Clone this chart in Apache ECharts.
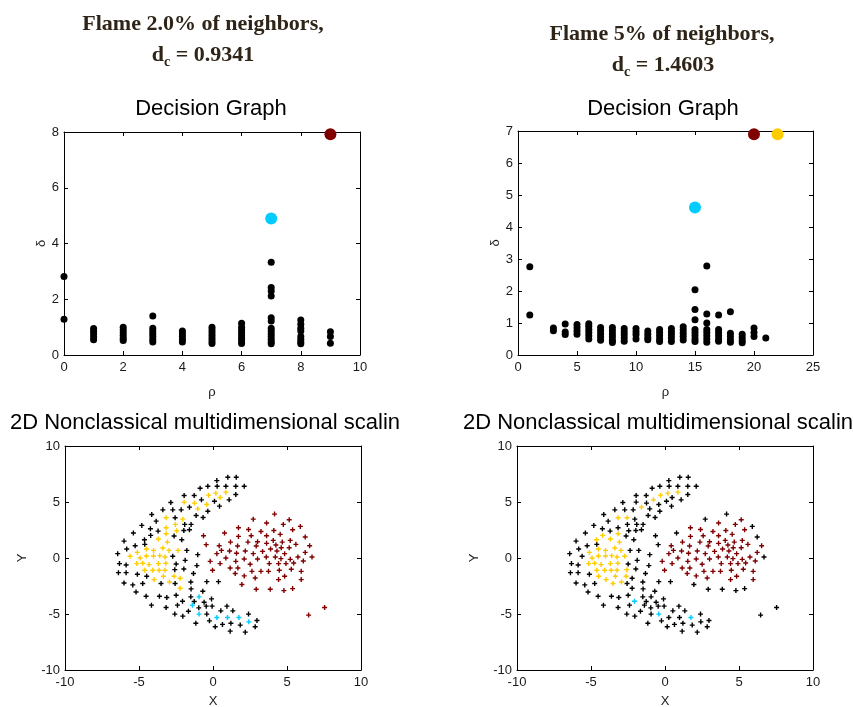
<!DOCTYPE html>
<html>
<head>
<meta charset="utf-8">
<script src="https://cdn.jsdelivr.net/npm/echarts@6/dist/echarts.min.js"></script>
<style>
html, body { margin: 0; padding: 0; background: #fff; }
#main { width: 853px; height: 707px; }
</style>
</head>
<body>
<div id="main"></div>
<script>
// decision graph, 2.0% of neighbours (rho, delta of the plain points)
const rhoA = [0,0, 1,1,1,1,1, 2,2,2,2,2,2, 3,3,3,3,3,3,3, 4,4,4,4,4, 5,5,5,5,5,5,5,
    6,6,6,6,6,6,6,6, 7,7,7,7,7,7,7,7,7,7,7,7,7, 8,8,8,8,8,8,8,8, 9,9,9];
const deltaA = [2.82,1.28, 0.95,0.85,0.75,0.65,0.55, 1.0,0.9,0.8,0.7,0.6,0.52,
    1.4,0.96,0.86,0.76,0.66,0.56,0.47, 0.86,0.76,0.66,0.56,0.47, 1.0,0.9,0.8,0.7,0.6,0.5,0.41,
    1.14,1.0,0.9,0.8,0.7,0.6,0.5,0.41, 3.33,2.42,2.3,2.12,1.34,1.22,0.96,0.86,0.76,0.66,0.56,0.47,0.4,
    1.26,1.1,0.96,0.86,0.66,0.56,0.47,0.4, 0.83,0.66,0.42];
const centRhoA = [7, 9];
const centDeltaA = [4.9, 7.92];
const centColA = ['#00ccff', '#800000'];

// decision graph, 5% of neighbours
const rhoB = [1,1, 3,3, 4,4,4, 5,5,5,5, 6,6,6,6,6,6, 7,7,7,7,7, 8,8,8,8,8,8, 9,9,9,9,9, 10,10,10,10,
    11,11,11,11, 12,12,12,12,12, 13,13,13,13,13, 14,14,14,14,14, 15,15,15,15,15,15,15,15,
    16,16,16,16,16,16,16,16, 17,17,17,17,17,17, 18,18,18,18,18, 19,19,19,19, 20,20,20, 21];
const deltaB = [2.76,1.25, 0.84,0.76, 0.97,0.72,0.64, 0.95,0.85,0.75,0.65, 0.98,0.9,0.8,0.7,0.6,0.5,
    0.86,0.76,0.66,0.56,0.46, 0.86,0.76,0.66,0.56,0.46,0.39, 0.83,0.73,0.63,0.53,0.43, 0.83,0.73,0.63,0.5,
    0.75,0.65,0.55,0.48, 0.8,0.7,0.6,0.5,0.42, 0.83,0.73,0.63,0.53,0.42, 0.88,0.78,0.68,0.58,0.47,
    2.04,1.42,1.1,0.8,0.7,0.6,0.5,0.42, 2.78,1.28,1.0,0.8,0.7,0.6,0.5,0.4, 1.25,0.8,0.7,0.6,0.5,0.43,
    1.35,0.68,0.58,0.48,0.4, 0.65,0.55,0.45,0.38, 0.84,0.7,0.58, 0.53];
const centRhoB = [15, 20, 22];
const centDeltaB = [4.61, 6.9, 6.9];
const centColB = ['#00ccff', '#800000', '#ffcc00'];

// 2D embedding (same points in both lower plots)
const ptX = [
    1.00,1.57,0.26,-0.35,0.28,0.87,1.54,2.11,-0.87,0.87,
    0.19,1.54,-1.95,-1.27,-0.30,0.48,1.09,-0.78,-1.95,-2.85,
    0.10,-1.25,-0.42,0.44,-1.59,-1.03,-3.39,-2.72,-2.15,-0.35,
    -4.14,-1.14,-3.17,-2.56,-2.04,-0.67,-3.84,-2.54,-1.91,-1.48,
    -4.81,-3.17,-4.23,-2.45,-1.97,-1.59,-3.71,-5.38,-3.17,-2.63,
    -4.21,-3.69,-4.63,-2.11,-6.01,-3.08,-4.61,-5.26,-3.39,-5.83,
    -4.50,-4.02,-2.97,-2.36,-1.77,-5.11,-6.44,-1.03,-5.60,-4.50,
    -4.02,-3.60,-3.24,-2.72,-4.93,-1.88,-6.32,-5.87,-5.15,-4.75,
    -4.32,-3.69,-3.19,-2.49,-1.09,-6.39,-5.87,-5.11,-4.61,-4.07,
    -3.64,-3.24,-2.58,-1.97,-4.48,-3.98,-3.35,-2.63,-2.22,-1.32,
    -6.01,-5.42,-4.75,-3.51,-2.94,-2.56,-1.50,-0.42,0.37,-5.20,
    -2.22,-1.48,-0.69,-4.52,-3.62,-3.12,-2.49,-1.50,-0.94,-0.10,
    -2.06,-1.27,-0.60,-4.16,-3.17,-2.40,-1.39,-0.46,-0.06,0.94,
    -0.96,1.34,0.53,-2.58,-2.04,-1.66,-0.94,-0.42,0.26,0.98,
    1.75,2.40,-0.24,0.15,0.64,1.21,1.84,2.42,2.97,-1.16,
    1.16,2.18,2.85,
    4.16,2.72,3.62,4.75,1.72,2.40,4.11,0.78,3.24,-0.64,
    2.58,3.62,4.54,1.72,1.18,2.36,3.01,3.62,4.07,4.68,
    0.42,-0.46,1.66,2.92,3.89,4.25,0.57,1.12,2.18,3.35,
    0.26,1.59,2.72,3.60,4.21,0.87,2.11,3.01,5.15,5.90,
    5.38,6.23,5.22,5.60,6.53,4.61,5.15,4.32,4.84,6.23,
    6.69,4.59,5.74,5.22,6.10,3.80,4.43,4.93,5.45,3.75,
    4.48,5.29,5.96,4.84,4.43,5.96,-0.19,0.48,1.54,1.16,
    1.68,2.51,-0.03,1.50,2.63,3.24,2.11,2.85,1.95,2.92,
    3.87,4.79,5.38,7.54,6.46
];
const ptY = [
    7.21,7.21,6.91,6.41,6.41,6.41,6.41,6.41,6.23,5.88,
    5.79,5.67,5.58,5.58,5.61,5.40,5.19,5.19,4.99,4.96,
    5.07,4.90,4.78,4.63,4.54,4.39,4.30,4.30,4.30,4.18,
    3.89,3.80,3.59,3.59,3.47,3.62,3.29,3.00,3.00,3.00,
    2.91,2.70,2.61,2.43,2.46,2.52,2.40,2.23,2.17,1.96,
    2.02,1.69,1.63,1.63,1.51,1.42,1.22,1.10,0.89,0.80,
    0.80,0.68,0.68,0.68,0.68,0.50,0.39,0.30,0.15,0.18,
    0.18,0.21,0.09,0.15,0.00,-0.21,-0.50,-0.62,-0.50,-0.47,
    -0.59,-0.50,-0.47,-0.53,-0.68,-1.31,-1.31,-1.45,-1.10,-1.10,
    -1.10,-1.10,-1.04,-0.98,-1.63,-1.93,-1.63,-1.63,-1.81,-1.39,
    -2.23,-2.40,-2.28,-2.28,-2.14,-2.28,-2.14,-2.11,-2.11,-3.03,
    -2.70,-2.76,-2.97,-3.41,-3.41,-3.53,-3.32,-3.47,-3.47,-3.65,
    -3.86,-3.89,-3.95,-4.21,-4.42,-4.21,-4.21,-4.30,-4.30,-4.30,
    -4.45,-4.72,-4.72,-5.01,-5.19,-4.75,-5.01,-5.01,-5.31,-5.31,
    -5.31,-5.01,-5.61,-6.14,-5.93,-5.82,-5.99,-5.70,-5.58,-5.82,
    -6.53,-6.62,-6.14,
    3.92,3.47,3.12,3.00,2.70,2.55,2.46,2.23,2.37,1.99,
    1.99,1.99,2.11,1.93,1.42,1.42,1.45,1.31,1.57,1.42,
    1.10,1.19,1.07,1.07,0.80,1.16,0.68,0.62,0.62,0.59,
    0.39,0.42,0.39,0.09,0.09,0.00,-0.09,-0.09,3.41,2.82,
    2.52,1.87,1.57,1.22,1.10,0.92,0.92,0.62,0.39,0.50,
    0.09,-0.06,0.09,-0.12,-0.27,-0.50,-0.50,-0.50,-0.45,-1.19,
    -1.10,-1.01,-1.19,-1.63,-1.93,-1.93,-0.30,-0.50,-0.30,-0.89,
    -0.89,-0.56,-1.10,-1.39,-1.19,-1.19,-1.60,-1.78,-2.37,-2.79,
    -2.79,-2.91,-2.73,-4.42,-5.10
];
// cluster of each point: k = unassigned, y / c / r = the three clusters
const labA = (
    'kkkkkkkkky' + 'ykkkyykkyk' + 'kyykkykkkk' + 'kkykykkykk' + 'kykykkkkyk' +
    'kykkkykkyk' + 'yyyykykkyy' + 'yyykykkkyy' + 'yyykkkkkyy' + 'yykkkyyyyk' +
    'kkkkykkkkk' + 'ykkkkkkkck' + 'kkkkkkckkk' + 'kkkkkkckcc' + 'ckkkkkkckk' + 'kkk' +
    'rrrrrrrrrr' + 'rrrrrrrrrr' + 'rrrrrrrrrr' + 'rrrrrrrrrr' + 'rrrrrrrrrr' +
    'rrrrrrrrrr' + 'rrrrrrrrrr' + 'rrrrrrrrrr' + 'rrrrr');
const labB = (
    'kkkkkkkkky' + 'ykkkykkykk' + 'kkkkykkkkk' + 'kkyykkkkkk' + 'kkkkkkkkyk' +
    'yyykkykkyk' + 'yyykkykkky' + 'yyyyykkkyy' + 'yyykkkkkyy' + 'yyykyyyykk' +
    'kkkyykkkkk' + 'kkkkkkkkkk' + 'ckkkkkkkkk' + 'kkkkkkkckk' + 'ckkkkkkkkk' + 'kkk' +
    'kkrrrrrkrk' + 'rrrrrrrrrr' + 'rkrrrrrrrr' + 'rrrrrrrrrk' + 'rkrrrrrrrr' +
    'krrrrrrrrr' + 'rrrrrrrrrr' + 'rrrrrrrrkk' + 'kkkkk');

const colOf = { k: '#000000', y: '#ffcc00', c: '#00ccff', r: '#800000' };
const plus = 'path://M0,1.8H1.8V0H3.2V1.8H5V3.2H3.2V5H1.8V3.2H0Z';
const fnt = '"Liberation Sans", Arial, sans-serif';

const grids = [
    { left: 64, top: 132, width: 296, height: 223 },
    { left: 518, top: 131, width: 295, height: 224 },
    { left: 65, top: 446, width: 296, height: 224 },
    { left: 517, top: 446, width: 296, height: 224 }
].map(g => ({ ...g, containLabel: false, outerBoundsMode: 'none' }));

const line = { show: true, onZero: false, lineStyle: { color: '#000', width: 1 } };
const tick = { show: true, inside: true, length: 4, lineStyle: { color: '#000' } };

function axPair(gi, dim, min, max, step, name, gap) {
    const main = {
        type: 'value', gridIndex: gi, min, max, interval: step,
        position: dim === 'x' ? 'bottom' : 'left',
        axisLine: line, axisTick: tick, splitLine: { show: false },
        axisLabel: { color: '#1a1a1a', fontSize: 13, fontFamily: fnt, margin: dim === 'x' ? 6 : 5,
            showMinLabel: true, showMaxLabel: true },
        name, nameLocation: 'middle', nameGap: gap,
        nameTextStyle: { color: '#1a1a1a', fontSize: 13, fontFamily: fnt }
    };
    const box = {
        type: 'value', gridIndex: gi, min, max, interval: step,
        position: dim === 'x' ? 'top' : 'right',
        axisLine: line, axisTick: tick, splitLine: { show: false }, axisLabel: { show: false }
    };
    return [main, box];
}

const xAxis = [
    ...axPair(0, 'x', 0, 10, 2, 'ρ', 31),
    ...axPair(1, 'x', 0, 25, 5, 'ρ', 31),
    ...axPair(2, 'x', -10, 10, 5, 'X', 25),
    ...axPair(3, 'x', -10, 10, 5, 'X', 25)
];
const yAxis = [
    ...axPair(0, 'y', 0, 8, 2, 'δ', 16),
    ...axPair(1, 'y', 0, 7, 1, 'δ', 16),
    ...axPair(2, 'y', -10, 10, 5, 'Y', 36),
    ...axPair(3, 'y', -10, 10, 5, 'Y', 36)
];

const series = [];
function decision(gi, rho, delta, cR, cD, cC) {
    series.push({ type: 'scatter', xAxisIndex: gi * 2, yAxisIndex: gi * 2, symbol: 'circle', symbolSize: 7,
        itemStyle: { color: '#000', opacity: 1 }, data: rho.map((r, i) => [r, delta[i]]) });
    series.push({ type: 'scatter', xAxisIndex: gi * 2, yAxisIndex: gi * 2, symbol: 'circle', symbolSize: 12,
        data: cR.map((r, i) => ({ value: [r, cD[i]], itemStyle: { color: cC[i], opacity: 1 } })) });
}
decision(0, rhoA, deltaA, centRhoA, centDeltaA, centColA);
decision(1, rhoB, deltaB, centRhoB, centDeltaB, centColB);

function embed(gi, lab) {
    ['k', 'y', 'c', 'r'].forEach(k => {
        const d = [];
        ptX.forEach((x, i) => { if (lab[i] === k) d.push([x, ptY[i]]); });
        series.push({ type: 'scatter', xAxisIndex: gi * 2, yAxisIndex: gi * 2, symbol: plus, symbolSize: 5,
            itemStyle: { color: colOf[k], opacity: 1 }, data: d });
    });
}
embed(2, labA);
embed(3, labB);

// header text, with the subscript c placed by measured widths
const ctx = document.createElement('canvas').getContext('2d');
const fBig = 'bold 22px "Liberation Serif", "Times New Roman", serif';
const fSub = 'bold 14px "Liberation Serif", "Times New Roman", serif';
const brown = '#2e2418';
function txt(x, y, s, font, fill, align) {
    return { type: 'text', x, y, style: { text: s, font, fill: fill || '#000',
        textAlign: align || 'center', align: align || 'center', textVerticalAlign: 'middle', verticalAlign: 'middle' } };
}
function dcLine(cx, y, val) {
    const post = ' = ' + val;
    ctx.font = fBig; const w1 = ctx.measureText('d').width, w3 = ctx.measureText(post).width;
    ctx.font = fSub; const w2 = ctx.measureText('c').width;
    const x0 = cx - (w1 + w2 + w3) / 2;
    return [txt(x0, y, 'd', fBig, brown, 'left'), txt(x0 + w1, y + 7, 'c', fSub, brown, 'left'),
        txt(x0 + w1 + w2, y, post, fBig, brown, 'left')];
}
const fSub2 = '22px ' + fnt;
const graphic = [
    txt(203, 24, 'Flame 2.0% of neighbors,', fBig, brown),
    ...dcLine(203, 55, '0.9341'),
    txt(662, 34, 'Flame 5% of neighbors,', fBig, brown),
    ...dcLine(663, 65, '1.4603'),
    txt(211, 109, 'Decision Graph', fSub2),
    txt(663, 109, 'Decision Graph', fSub2),
    txt(205, 423, '2D Nonclassical multidimensional scalin', fSub2),
    txt(658, 423, '2D Nonclassical multidimensional scalin', fSub2)
];

const chart = echarts.init(document.getElementById('main'), null, { renderer: 'canvas' });
chart.setOption({
    backgroundColor: '#fff',
    animation: false,
    grid: grids,
    xAxis, yAxis, series, graphic
});
</script>
</body>
</html>
